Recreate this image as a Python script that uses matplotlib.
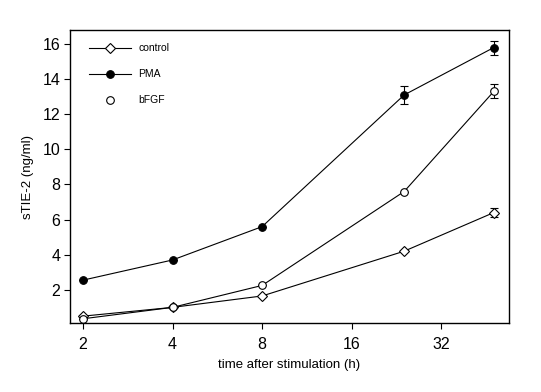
import numpy as np
import matplotlib
matplotlib.use('Agg')
import matplotlib.pyplot as plt
import matplotlib.ticker as ticker

plt.rcParams['font.family'] = ['Liberation Sans', 'DejaVu Sans']

hours = [2, 4, 8, 24, 48]
control = [0.5, 1.0, 1.65, 4.2, 6.4]
control_err = [0, 0, 0, 0, 0.25]
pma = [2.55, 3.7, 5.6, 13.1, 15.8]
pma_err = [0, 0, 0, 0.5, 0.4]
bfgf = [0.35, 1.0, 2.25, 7.6, 13.3]
bfgf_err = [0, 0, 0, 0, 0.4]

xticks = [2, 4, 8, 16, 32]
yticks = [2, 4, 6, 8, 10, 12, 14, 16]

fig = plt.figure(figsize=(5.41, 3.92), dpi=100)
ax = fig.add_axes([70/541, 1 - 323/392, (509-70)/541, (323-30)/392])

kw = dict(color='black', lw=0.8, capsize=3, elinewidth=0.8,
          capthick=0.8, markeredgewidth=0.8)
ax.errorbar(hours, control, yerr=control_err, marker='D', markersize=5,
            markerfacecolor='white', **kw)
ax.errorbar(hours, pma, yerr=pma_err, marker='o', markersize=5.5,
            markerfacecolor='black', **kw)
ax.errorbar(hours, bfgf, yerr=bfgf_err, marker='o', markersize=5.5,
            markerfacecolor='white', **kw)

ax.set_xscale('log', base=2)
ax.set_xlim(1.81, 54)
ax.set_ylim(0.11, 16.8)
ax.xaxis.set_major_locator(ticker.FixedLocator(xticks))
ax.xaxis.set_major_formatter(ticker.FuncFormatter(lambda x, pos: '{0:g}'.format(x)))
ax.xaxis.set_minor_locator(ticker.NullLocator())
ax.set_yticks(yticks)
ax.tick_params(direction='out', length=4, width=0.8, labelsize=11.5)
ax.tick_params(axis='x', pad=6)
ax.tick_params(axis='y', pad=3)
for s in ax.spines.values():
    s.set_linewidth(1.0)

ax.set_xlabel('time after stimulation (h)', fontsize=9.5, labelpad=5)
ax.set_ylabel('sTIE-2 (ng/ml)', fontsize=9.5, labelpad=6)

# legend drawn in axes coordinates
lx0, lx1, tx = 0.043, 0.139, 0.155
ly = [0.939, 0.850, 0.761]
names = ['control', 'PMA', 'bFGF']
marks = [('D', 'white', 5, True), ('o', 'black', 5.5, True), ('o', 'white', 5.5, False)]
for y, name, (m, fc, ms, line) in zip(ly, names, marks):
    if line:
        ax.plot([lx0, lx1], [y, y], color='black', lw=0.8, transform=ax.transAxes)
    ax.plot([(lx0 + lx1) / 2], [y], marker=m, markerfacecolor=fc, markeredgecolor='black',
            markersize=ms, markeredgewidth=0.8, transform=ax.transAxes)
    ax.text(tx, y, name, fontsize=7.5, va='center', ha='left', transform=ax.transAxes)

fig.savefig('out.png', dpi=100)
